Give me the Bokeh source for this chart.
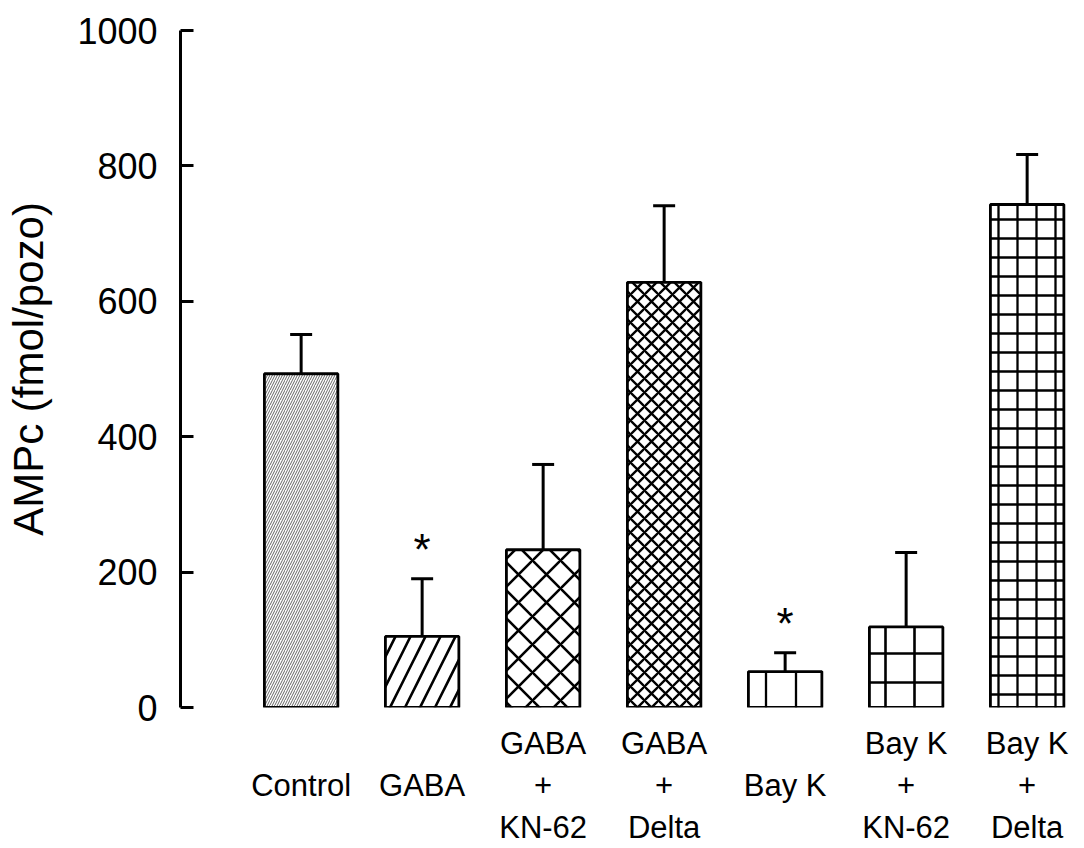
from bokeh.plotting import figure
from bokeh.models import Range1d, FixedTicker, Whisker, TeeHead, ColumnDataSource
from bokeh.core.properties import value
from bokeh.embed import file_html
from bokeh.resources import INLINE

# ---- data ----
categories = ["Control", "GABA", "GABA + KN-62", "GABA + Delta",
              "Bay K", "Bay K + KN-62", "Bay K + Delta"]
tick_labels = ["\nControl\n", "\nGABA\n", "GABA\n+\nKN-62", "GABA\n+\nDelta",
               "\nBay K\n", "Bay K\n+\nKN-62", "Bay K\n+\nDelta"]
means = [493, 105, 233, 628, 53, 119, 743]
sem = [58, 85, 126, 113, 28, 110, 74]
significance = ["", "*", "", "", "*", "", ""]
hatches = ["/", "/", "x", "x", "|", "+", "+"]
hatch_scales = [5, 30, 28, 14, 30, 29, 19]
hatch_weights = [0.9, 2.6, 2.6, 2.3, 2.3, 2.6, 2.3]
hatch_colors = ["#555555", "black", "black", "black", "black", "black", "black"]
y_ticks = [0, 200, 400, 600, 800, 1000]

idx = list(range(len(categories)))
upper = [m + s for m, s in zip(means, sem)]

src = ColumnDataSource(dict(x=idx, top=means, upper=upper, sig=significance,
                            hp=hatches, hs=hatch_scales, hw=hatch_weights, hc=hatch_colors))

p = figure(width=1084, height=848, output_backend="svg", toolbar_location=None,
           x_range=Range1d(-0.997, 6.474), y_range=Range1d(0, 1000),
           min_border_left=180, min_border_top=30, min_border_right=0,
           min_border_bottom=141)
p.outline_line_color = None
p.xgrid.visible = False
p.ygrid.visible = False
p.background_fill_color = "white"
p.border_fill_color = "white"

p.vbar(x="x", top="top", bottom=0, width=0.607, source=src,
       fill_color="white", line_color="black", line_width=2.8,
       hatch_pattern="hp", hatch_scale="hs", hatch_weight="hw", hatch_color="hc")

w = Whisker(base="x", upper="upper", lower="top", source=src, dimension="height",
            line_color="black", line_width=3,
            upper_head=TeeHead(size=22, line_width=3, line_color="black"),
            lower_head=None)
p.add_layout(w)

p.text(x="x", y="upper", text="sig", source=src, text_align="center",
       text_baseline="alphabetic", y_offset=-29, text_font_size="44px",
       text_font=value("Liberation Sans"), text_color="black")

# y axis
ya = p.yaxis[0]
ya.ticker = FixedTicker(ticks=y_ticks)
ya.axis_label = "AMPc (fmol/pozo)"
ya.axis_label_text_font = "Liberation Sans"
ya.axis_label_text_font_size = "42px"
ya.axis_label_text_font_style = "normal"
ya.axis_label_text_color = "black"
ya.axis_label_standoff = 22
ya.major_label_text_font = "Liberation Sans"
ya.major_label_text_font_size = "36px"
ya.major_label_text_color = "black"
ya.major_label_standoff = 23
ya.axis_line_width = 3
ya.axis_line_color = "black"
ya.major_tick_in = 13
ya.major_tick_out = 0
ya.major_tick_line_width = 3
ya.minor_tick_line_color = None

# x axis (labels only)
xa = p.xaxis[0]
xa.ticker = FixedTicker(ticks=idx)
xa.major_label_overrides = {i: lab for i, lab in zip(idx, tick_labels)}
xa.axis_line_color = None
xa.major_tick_line_color = None
xa.minor_tick_line_color = None
xa.major_tick_out = 0
xa.major_tick_in = 0
xa.major_label_standoff = 18
xa.major_label_text_font = "Liberation Sans"
xa.major_label_text_font_size = "31px"
xa.major_label_text_color = "black"
xa.major_label_text_line_height = 1.2

open("out.html", "w").write(file_html(p, INLINE))
